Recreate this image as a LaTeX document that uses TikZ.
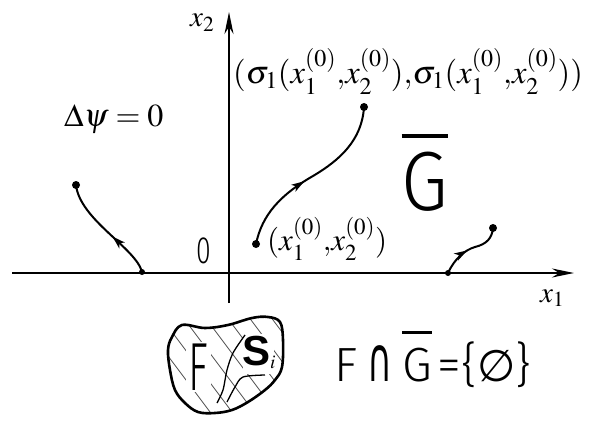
\documentclass[tikz,border=0pt]{standalone}
\usepackage{mathptmx}
\usepackage{fontspec}
\newfontfamily\hand{Fira Sans Light}
\newfontfamily\dv{DejaVu Sans}
\newfontfamily\arl{Liberation Sans}
\usetikzlibrary{arrows.meta,decorations.markings}
\newcommand\Gbar[2]{\setbox0\hbox{G}\rlap{\raisebox{#1}{\rule{\wd0}{#2}}}\box0}
\tikzset{
  axis/.style={line width=2.2pt,-{Stealth[length=22pt,width=9pt]}},
  traj/.style={line width=2pt,postaction={decorate},
    decoration={markings,mark=at position #1 with {\arrow{Stealth[length=13pt,width=8pt,inset=3.5pt]}}}},
  dot/.style={circle,fill=black,inner sep=0pt,minimum size=8pt},
  lab/.style={inner sep=0pt,font=\fontsize{29}{31}\selectfont},
  hatch/.style={line width=0.8pt,black!70},
}
\begin{document}
\begin{tikzpicture}[x=1pt,y=-1pt]
\useasboundingbox (0,0) rectangle (590,428);
% axes
\coordinate (xs) at (12,273);
\coordinate (xe) at (574,273);
\coordinate (ys) at (229,303);
\coordinate (ye) at (229,12);
\draw[axis] (xs) -- (xe);
\draw[axis] (ys) -- (ye);
\node[lab,anchor=base west] (x1) at (540,302) {$x_1$};
\node[lab,anchor=base west] (x2) at (190,27) {$x_2$};
\node[inner sep=0pt,anchor=base] (O) at (204,263) {\hand\fontsize{38}{40}\selectfont\scalebox{0.7}[1]{0}};
\node[lab,font=\fontsize{32}{34}\selectfont,anchor=base west] (dpsi) at (64,127) {$\Delta\psi=0$};
% left trajectory
\node[dot] (a1) at (76,185) {};
\node[dot,minimum size=6pt] (b1) at (142,272) {};
\draw[traj=0.42] (b1.center) .. controls (136,248) and (80,220) .. (a1.center);
% middle trajectory
\node[dot] (a2) at (256,244) {};
\node[dot] (b2) at (364,107) {};
\draw[traj=0.45] (a2.center) .. controls (262,215) and (280,195) .. (313,176)
  .. controls (340,160) and (362,140) .. (b2.center);
\node[lab,font=\fontsize{31}{33}\selectfont,anchor=base west] (l2) at (267,251) {$(x_1^{(0)}{,}x_2^{(0)})$};
\node[lab,font=\fontsize{32.5}{34}\selectfont,anchor=base west] (l1) at (233,84) {$(\sigma_1(x_1^{(0)}{,}x_2^{(0)}){,}\sigma_1(x_1^{(0)}{,}x_2^{(0)}))$};
% right trajectory
\node[dot,minimum size=6pt] (a3) at (448,273) {};
\node[dot] (b3) at (493,228) {};
\draw[traj=0.45] (a3.center) .. controls (455,258) and (465,250) .. (475,247)
  .. controls (487,244) and (492,238) .. (b3.center);
% G bar
\node[inner sep=0pt,anchor=base] (G) at (425,210) {\hand\fontsize{84}{86}\selectfont\scalebox{0.9}[1]{\Gbar{0.86em}{3.5pt}}};
% blob
\def\blob{plot[smooth cycle,tension=0.6] coordinates {(172,337) (182,325) (205,328) (228,325) (252,318) (268,317) (280,322) (283,340) (282,367) (275,380) (265,390) (248,402) (232,410) (215,413) (198,412) (185,403) (175,390) (170,370) (168,350)}}
\begin{scope}
\clip \blob;
\foreach \i in {0,...,16} \draw[hatch] (60+\i*22,300) -- ++(90,120);
\end{scope}
\draw[line width=2.6pt] \blob;
\fill[white] (186,342) rectangle (211,392);
\fill[white] (243,334) rectangle (274,374);
\node[inner sep=0pt,anchor=base] (F) at (198,390) {\hand\fontsize{68}{70}\selectfont\scalebox{0.6}[1]{F}};
\node[inner sep=0pt,anchor=base west] (S) at (242,365) {\arl\bfseries\fontsize{42}{44}\selectfont S\fontsize{26}{28}\selectfont$_i$};
\draw[line width=1.3pt] plot[smooth] coordinates {(245,335) (233,353) (227,370) (223,390) (217,403)};
\draw[line width=1.3pt] plot[smooth] coordinates {(265,375) (243,377) (235,387) (227,402)};
% formula
\node[inner sep=0pt,anchor=base west] (eq) at (334,381) {\hand\fontsize{48}{50}\selectfont F\hspace{10pt}{\dv\fontsize{62}{64}\selectfont\scalebox{0.55}[1]{∩}}\hspace{10pt}\Gbar{0.98em}{2.8pt}\hspace{6pt}=\{{\dv\fontsize{44}{46}\selectfont ∅}\}};
\end{tikzpicture}
\end{document}
